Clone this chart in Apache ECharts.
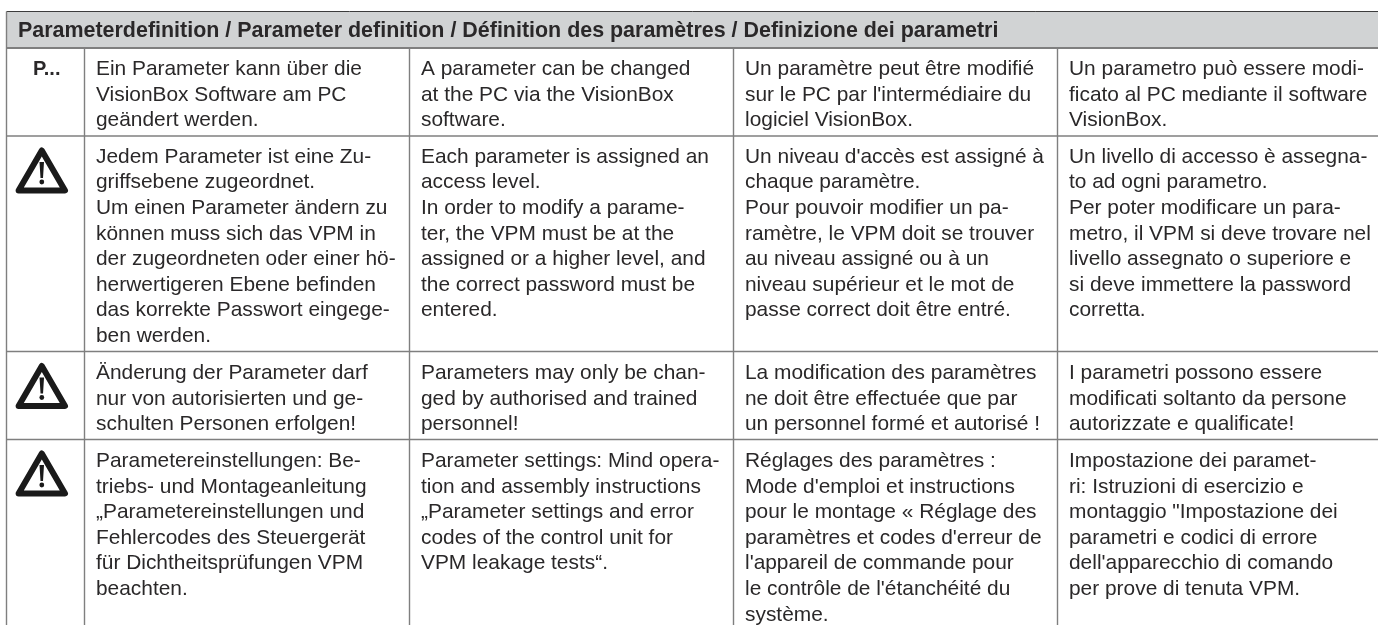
<!DOCTYPE html>
<html>
<head>
<meta charset="utf-8">
<style>html,body{margin:0;padding:0;background:#fff}#c{width:1378px;height:625px}</style>
<script src="https://cdn.jsdelivr.net/npm/echarts@6/dist/echarts.min.js"></script>
</head>
<body>
<div id="c"></div>
<script>
const title = "Parameterdefinition / Parameter definition / Définition des paramètres / Definizione dei parametri";
const markers = ["P...", "warning", "warning", "warning"];
const german = [
  ["Ein Parameter kann über die","VisionBox Software am PC","geändert werden."],
  ["Jedem Parameter ist eine Zu-","griffsebene zugeordnet.","Um einen Parameter ändern zu","können muss sich das VPM in","der zugeordneten oder einer hö-","herwertigeren Ebene befinden","das korrekte Passwort eingege-","ben werden."],
  ["Änderung der Parameter darf","nur von autorisierten und ge-","schulten Personen erfolgen!"],
  ["Parametereinstellungen: Be-","triebs- und Montageanleitung","„Parametereinstellungen und","Fehlercodes des Steuergerät","für Dichtheitsprüfungen VPM","beachten."]
];
const english = [
  ["A parameter can be changed","at the PC via the VisionBox","software."],
  ["Each parameter is assigned an","access level.","In order to modify a parame-","ter, the VPM must be at the","assigned or a higher level, and","the correct password must be","entered."],
  ["Parameters may only be chan-","ged by authorised and trained","personnel!"],
  ["Parameter settings: Mind opera-","tion and assembly instructions","„Parameter settings and error","codes of the control unit for","VPM leakage tests“."]
];
const french = [
  ["Un paramètre peut être modifié","sur le PC par l'intermédiaire du","logiciel VisionBox."],
  ["Un niveau d'accès est assigné à","chaque paramètre.","Pour pouvoir modifier un pa-","ramètre, le VPM doit se trouver","au niveau assigné ou à un","niveau supérieur et le mot de","passe correct doit être entré."],
  ["La modification des paramètres","ne doit être effectuée que par","un personnel formé et autorisé !"],
  ["Réglages des paramètres :","Mode d'emploi et instructions","pour le montage « Réglage des","paramètres et codes d'erreur de","l'appareil de commande pour","le contrôle de l'étanchéité du","système."]
];
const italian = [
  ["Un parametro può essere modi-","ficato al PC mediante il software","VisionBox."],
  ["Un livello di accesso è assegna-","to ad ogni parametro.","Per poter modificare un para-","metro, il VPM si deve trovare nel","livello assegnato o superiore e","si deve immettere la password","corretta."],
  ["I parametri possono essere","modificati soltanto da persone","autorizzate e qualificate!"],
  ["Impostazione dei paramet-","ri: Istruzioni di esercizio e","montaggio \"Impostazione dei","parametri e codici di errore","dell'apparecchio di comando","per prove di tenuta VPM."]
];
const languages = [german, english, french, italian];

// layout, in page units of the hidden axes
const colEdges = [6.5, 84.5, 409.5, 733.5, 1057.5, 1378];
const rowEdges = [48, 136, 351.5, 439.5, 625];
const tableTop = 11.5;
const firstBaseline = [74, 161.5, 377.7, 465.8];
const iconTop = [0, 147, 362.5, 450];
const lineStep = 25.6;
const textInset = 11.5;
const baselineLift = 15;
const FONT = '"Liberation Sans", Arial, sans-serif';
const BODY_PX = 20.9, HEAD_PX = 21.45;
const INK = '#2a2829', RULE = '#7f7f7f';

const cells = [];
languages.forEach((lang, c) => lang.forEach((lines, r) => cells.push({value: [c, r], lines})));

function renderFrame(params, api) {
  const p = (x, y) => api.coord([x, y]);
  const children = [];
  const tl = p(colEdges[0], tableTop), br = p(1378, rowEdges[0]);
  children.push({type:'rect', shape:{x:tl[0], y:tl[1], width:br[0]-tl[0], height:br[1]-tl[1]}, style:{fill:'#d1d3d4'}});
  const seg = (x1,y1,x2,y2,stroke,w) => {
    const a = p(x1,y1), b = p(x2,y2);
    children.push({type:'line', shape:{x1:a[0],y1:a[1],x2:b[0],y2:b[1]}, style:{stroke, lineWidth:w}});
  };
  seg(colEdges[0], tableTop, 1378, tableTop, '#3c3c3c', 1);
  seg(colEdges[0], tableTop, colEdges[0], 625, RULE, 1.4);
  rowEdges.slice(0, 4).forEach(y => seg(colEdges[0], y, 1378, y, RULE, y === rowEdges[0] ? 1.8 : 1.4));
  colEdges.slice(1, 5).forEach(x => seg(x, rowEdges[0], x, 625, RULE, 1.4));
  return {type:'group', children};
}

function textEl(x, baseline, text, font) {
  return {type:'text', style:{x, y:baseline - baselineLift, text, fill:INK, font, textBaseline:'top'}};
}

function renderHeader(params, api) {
  const a = api.coord([18, 36]);
  return textEl(a[0], a[1], title, 'bold '+HEAD_PX+'px '+FONT);
}

function renderCell(params, api) {
  const c = api.value(0), r = api.value(1);
  const lines = cells[params.dataIndex].lines;
  return {type:'group', children: lines.map((t, i) => {
    const a = api.coord([colEdges[c+1] + textInset, firstBaseline[r] + i * lineStep]);
    return textEl(a[0], a[1], t, BODY_PX+'px '+FONT);
  })};
}

function renderMarker(params, api) {
  const r = api.value(0);
  const k = markers[r];
  if (k !== 'warning') {
    const a = api.coord([33, firstBaseline[r]]);
    return textEl(a[0], a[1], k, 'bold 20px '+FONT);
  }
  const top = iconTop[r];
  const P = (x, y) => api.coord([x, top + y]);
  return {type:'group', children:[
    {type:'polygon', shape:{points:[P(41.8,3.5),P(65,43.5),P(18.6,43.5)]},
     style:{fill:'#fff', stroke:'#1a1a1a', lineWidth:6, lineJoin:'round'}},
    {type:'polygon', shape:{points:[P(39.5,15),P(44,15),P(43,31),P(40.5,31)]}, style:{fill:'#1a1a1a'}},
    {type:'circle', shape:{cx:P(41.8,35)[0], cy:P(41.8,35)[1], r:2.4}, style:{fill:'#1a1a1a'}}
  ]};
}

const chart = echarts.init(document.getElementById('c'), null, {renderer:'canvas'});
chart.setOption({
  animation:false,
  backgroundColor:'#fff',
  tooltip:{show:false},
  grid:{left:0, right:0, top:0, bottom:0},
  xAxis:{type:'value', min:0, max:1378, show:false},
  yAxis:{type:'value', min:0, max:625, inverse:true, show:false},
  series:[
    {type:'custom', silent:true, clip:false, data:[[0,0]], renderItem:renderFrame},
    {type:'custom', silent:true, clip:false, data:[[0,0]], renderItem:renderHeader},
    {type:'custom', silent:true, clip:false, data:markers.map((m,i)=>[i,0]), encode:{x:1,y:1}, renderItem:renderMarker},
    {type:'custom', silent:true, clip:false, data:cells, encode:{x:0,y:1}, renderItem:renderCell}
  ]
});
</script>
</body>
</html>
